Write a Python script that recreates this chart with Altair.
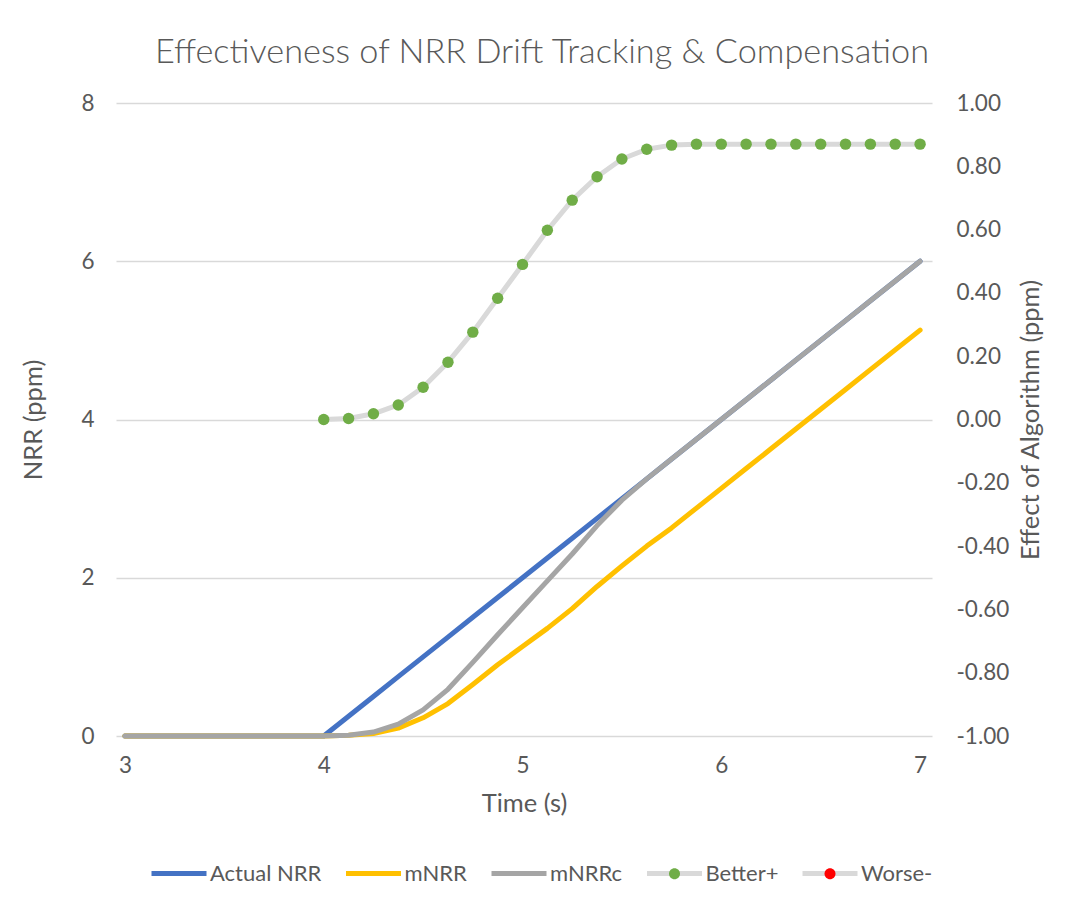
import altair as alt
import pandas as pd

# ---- data ----
time = [3.0, 3.125, 3.25, 3.375, 3.5, 3.625, 3.75, 3.875,
        4.0, 4.125, 4.25, 4.375, 4.5, 4.625, 4.75, 4.875,
        5.0, 5.125, 5.25, 5.375, 5.5, 5.625, 5.75, 5.875,
        6.0, 6.125, 6.25, 6.375, 6.5, 6.625, 6.75, 6.875, 7.0]

actual_nrr = [0, 0, 0, 0, 0, 0, 0, 0,
              0.0, 0.25, 0.5, 0.75, 1.0, 1.25, 1.5, 1.75,
              2.0, 2.25, 2.5, 2.75, 3.0, 3.25, 3.5, 3.75,
              4.0, 4.25, 4.5, 4.75, 5.0, 5.25, 5.5, 5.75, 6.0]

mnrr = [0, 0, 0, 0, 0, 0, 0, 0,
        0.0, 0.01, 0.03, 0.10, 0.23, 0.41, 0.65, 0.90,
        1.13, 1.36, 1.61, 1.89, 2.15, 2.40, 2.63, 2.88,
        3.13, 3.38, 3.63, 3.88, 4.13, 4.38, 4.63, 4.88, 5.13]

mnrrc = [0, 0, 0, 0, 0, 0, 0, 0,
         0.0, 0.01, 0.05, 0.15, 0.33, 0.59, 0.93, 1.28,
         1.62, 1.96, 2.30, 2.66, 2.98, 3.25, 3.50, 3.75,
         4.0, 4.25, 4.5, 4.75, 5.0, 5.25, 5.5, 5.75, 6.0]

effect_time = [4.0, 4.125, 4.25, 4.375, 4.5, 4.625, 4.75, 4.875,
               5.0, 5.125, 5.25, 5.375, 5.5, 5.625, 5.75, 5.875,
               6.0, 6.125, 6.25, 6.375, 6.5, 6.625, 6.75, 6.875, 7.0]
better = [0.0, 0.003, 0.018, 0.046, 0.102, 0.181, 0.276, 0.383,
          0.490, 0.598, 0.693, 0.767, 0.823, 0.854, 0.867, 0.870,
          0.870, 0.870, 0.870, 0.870, 0.870, 0.870, 0.870, 0.870, 0.870]

series_names = ["Actual NRR", "mNRR", "mNRRc", "Better+", "Worse-"]
series_colors = ["#4472c4", "#ffc000", "#a5a5a5", "#d9d9d9", "#d9d9d9"]
marker_names = ["d:" + n for n in series_names]
dot_colors = ["transparent", "transparent", "transparent", "#70ad47", "#ff0000"]

x_ticks = [3, 4, 5, 6, 7]
left_ticks = [0, 2, 4, 6, 8]
right_ticks = [-1.0, -0.8, -0.6, -0.4, -0.2, 0.0, 0.2, 0.4, 0.6, 0.8, 1.0]

TITLE = "Effectiveness of NRR Drift Tracking & Compensation"
FONT = "Lato"
TXT = "#595959"

# ---- tables ----
nrr_df = pd.DataFrame({
    "t": time * 3,
    "value": actual_nrr + mnrr + mnrrc,
    "series": ["Actual NRR"] * len(time) + ["mNRR"] * len(time) + ["mNRRc"] * len(time),
})
eff_df = pd.DataFrame({
    "t": effect_time,
    "value": better,
    "series": ["Better+"] * len(better),
    "marker": ["d:Better+"] * len(better),
})

W, H = 816, 633
LEG_X, LEG_Y = 33, 740.5
# legend symbols: both span the same width (-1..1), so the two legends line up
LINE_SYM = "M-1,0L1,0"
DOT_SYM = "M-1,0M1,0M-0.2,0A0.2,0.2,0,1,0,0.2,0A0.2,0.2,0,1,0,-0.2,0Z"
LEG_FS = 22
COL_PAD = 13.5
LAB_OFF = 1

x_enc = alt.X(
    "t:Q",
    scale=alt.Scale(domain=[2.955, 7.06], nice=False, zero=False),
    axis=alt.Axis(values=x_ticks, format="d", grid=False, domain=False, ticks=False,
                  labelPadding=18, labelFontSize=22.5, labelColor=TXT,
                  title="Time (s)", titleFontSize=25.5, titleColor=TXT, titleFontWeight="normal",
                  titleX=W / 2, titleY=67, titleAlign="center", titleBaseline="middle"),
)

y_left = alt.Y(
    "value:Q",
    scale=alt.Scale(domain=[0, 8], nice=False),
    axis=alt.Axis(values=left_ticks, grid=True, gridColor="#d9d9d9", gridWidth=1.3,
                  domain=False, ticks=False, labelPadding=22, labelFontSize=22.5, labelColor=TXT,
                  title="NRR (ppm)", titleFontSize=25.5, titleColor=TXT, titleFontWeight="normal",
                  titleX=-83, titleY=H / 2, titleAngle=270, titleAlign="center",
                  titleBaseline="middle"),
)

y_right = alt.Y(
    "value:Q",
    scale=alt.Scale(domain=[-1, 1], nice=False),
    axis=alt.Axis(orient="right", values=right_ticks, grid=False, domain=False, ticks=False,
                  labelExpr="datum.value < 0 ? '-' + format(-datum.value, '.2f') : format(datum.value, '.2f')",
                  labelPadding=24, labelFontSize=22.5, labelColor=TXT, labelAlign="left",
                  title="Effect of Algorithm (ppm)", titleFontSize=25.5, titleColor=TXT,
                  titleFontWeight="normal", titleX=98, titleY=H / 2, titleAngle=270,
                  titleAlign="center", titleBaseline="middle"),
)

color_enc = alt.Color(
    "series:N",
    scale=alt.Scale(domain=series_names, range=series_colors),
    legend=alt.Legend(title=None, orient="none", direction="horizontal", legendX=LEG_X, legendY=LEG_Y,
                      symbolType=LINE_SYM, symbolSize=3025, symbolStrokeWidth=5,
                      labelFontSize=LEG_FS, labelColor=TXT, labelFont=FONT, labelOffset=LAB_OFF,
                      columnPadding=COL_PAD, padding=0, zindex=0),
)

fill_enc = alt.Fill(
    "marker:N",
    scale=alt.Scale(domain=marker_names, range=dot_colors),
    legend=alt.Legend(title=None, orient="none", direction="horizontal", legendX=LEG_X, legendY=LEG_Y,
                      symbolType=DOT_SYM, symbolSize=3025, symbolStrokeWidth=5,
                      symbolStrokeColor="transparent", symbolOpacity=1,
                      labelExpr="substring(datum.label, 2)",
                      labelFontSize=LEG_FS, labelOpacity=0, labelFont=FONT, labelOffset=LAB_OFF,
                      columnPadding=COL_PAD, padding=0, zindex=1),
)

line_layers = []
for name in ["Actual NRR", "mNRR", "mNRRc"]:
    line_layers.append(
        alt.Chart(nrr_df).transform_filter(alt.datum.series == name)
        .mark_line(strokeWidth=5, strokeCap="round", strokeJoin="round")
        .encode(x=x_enc, y=y_left, color=color_enc)
    )
nrr_layer = alt.layer(*line_layers)

eff_line = alt.Chart(eff_df).mark_line(strokeWidth=5, strokeCap="round", strokeJoin="round").encode(
    x=x_enc, y=y_right, color=color_enc)
eff_pts = alt.Chart(eff_df).mark_circle(size=130, opacity=1).encode(
    x=x_enc, y=y_right, fill=fill_enc)
eff_layer = alt.layer(eff_line, eff_pts)

chart = (
    alt.layer(nrr_layer, eff_layer)
    .resolve_scale(y="independent", color="shared")
    .properties(
        width=W, height=H,
        title=alt.TitleParams(TITLE, fontSize=34.3, font=FONT, fontWeight=300, color=TXT,
                              anchor="middle", dx=18, offset=22),
        autosize=alt.AutoSizeParams(type="none"),
        padding={"left": 108, "top": 95, "right": 125, "bottom": 161},
        background="white",
    )
    .configure_view(strokeWidth=0)
    .configure_axis(labelFont=FONT, titleFont=FONT)
)

chart.save("out.html", embed_options={"renderer": "svg", "actions": False})
